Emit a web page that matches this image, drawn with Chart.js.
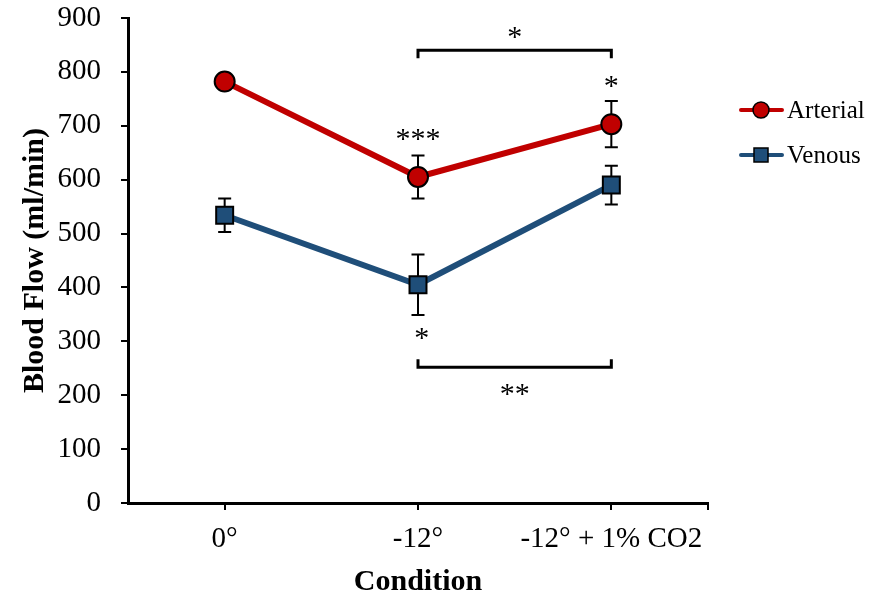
<!DOCTYPE html>
<html>
<head>
<meta charset="utf-8">
<script src="https://cdn.jsdelivr.net/npm/chart.js@4/dist/chart.umd.min.js"></script>
<style>
  html, body { margin: 0; padding: 0; background: #fff; }
  #wrap { width: 879px; height: 597px; }
</style>
</head>
<body>
<div id="wrap"><canvas id="grafico" width="879" height="597"></canvas></div>
<script>
// data
const condiciones = ["0°", "-12°", "-12° + 1% CO2"];
const arterial = [782, 605, 703];
const arterialErr = [8, 40, 43];
const venoso = [534, 405, 590];
const venosoErr = [31, 56, 36];
const yTicks = [0, 100, 200, 300, 400, 500, 600, 700, 800, 900];

// significance marks: [category index, value, text]
const estrellas = [
    [1.5, 872, "*"],
    [1, 683, "***"],
    [2, 781, "*"],
    [1.02, 313, "*"],
    [1.5, 210, "**"]
];
// brackets: [from, to, value, direction of end ticks]
const corchetes = [
    [1, 2, 840, 1],
    [1, 2, 252, -1]
];

const rojo = "#C00000";
const azul = "#1F4E79";
const fuente = "'Liberation Serif', 'Times New Roman', serif";

const extras = {
    id: "extras",
    beforeDatasetsDraw(chart) {
        const ctx = chart.ctx;
        const x = chart.scales.x;
        const y = chart.scales.y;
        ctx.save();
        ctx.strokeStyle = "#000";
        ctx.lineWidth = 2;

        // error bars, under the markers
        [[arterial, arterialErr], [venoso, venosoErr]].forEach(([vals, errs]) => {
            vals.forEach((v, i) => {
                const px = x.getPixelForValue(i);
                const top = y.getPixelForValue(v + errs[i]);
                const bot = y.getPixelForValue(v - errs[i]);
                ctx.beginPath();
                ctx.moveTo(px, top); ctx.lineTo(px, bot);
                ctx.moveTo(px - 6.5, top); ctx.lineTo(px + 6.5, top);
                ctx.moveTo(px - 6.5, bot); ctx.lineTo(px + 6.5, bot);
                ctx.stroke();
            });
        });
        ctx.restore();
    },
    afterDraw(chart) {
        const ctx = chart.ctx;
        const x = chart.scales.x;
        const y = chart.scales.y;
        const pos = (c) => x.getPixelForValue(0) + c * (x.getPixelForValue(1) - x.getPixelForValue(0));
        ctx.save();
        ctx.strokeStyle = "#000";
        ctx.lineWidth = 3;
        corchetes.forEach(([a, b, v, dir]) => {
            const py = y.getPixelForValue(v);
            ctx.beginPath();
            ctx.moveTo(pos(a), py + dir * 8);
            ctx.lineTo(pos(a), py);
            ctx.lineTo(pos(b), py);
            ctx.lineTo(pos(b), py + dir * 8);
            ctx.stroke();
        });

        ctx.fillStyle = "#000";
        ctx.font = "30px " + fuente;
        ctx.textAlign = "center";
        ctx.textBaseline = "alphabetic";
        estrellas.forEach(([c, v, t]) => {
            ctx.fillText(t, pos(c), y.getPixelForValue(v) + 13);
        });

        // x axis end tick
        ctx.lineWidth = 2;
        ctx.beginPath();
        ctx.moveTo(chart.chartArea.right, chart.chartArea.bottom);
        ctx.lineTo(chart.chartArea.right, chart.chartArea.bottom + 7);
        ctx.stroke();

        // legend
        const items = [["Arterial", rojo, "circle", 110], ["Venous", azul, "rect", 155]];
        items.forEach(([nombre, color, forma, ly]) => {
            ctx.strokeStyle = color;
            ctx.lineWidth = 4;
            ctx.lineCap = "round";
            ctx.beginPath();
            ctx.moveTo(741, ly); ctx.lineTo(782, ly);
            ctx.stroke();
            ctx.lineCap = "butt";
            ctx.fillStyle = color;
            ctx.strokeStyle = "#000";
            ctx.lineWidth = 1.5;
            ctx.beginPath();
            if (forma === "circle") ctx.arc(761, ly, 8, 0, Math.PI * 2);
            else ctx.rect(754, ly - 7, 14, 14);
            ctx.fill(); ctx.stroke();
            ctx.fillStyle = "#000";
            ctx.font = "25px " + fuente;
            ctx.textAlign = "left";
            ctx.textBaseline = "middle";
            ctx.fillText(nombre, 787, ly + 1);
        });
        ctx.restore();
    }
};

new Chart(document.getElementById("grafico").getContext("2d"), {
    type: "line",
    data: {
        labels: condiciones,
        datasets: [
            {
                label: "Arterial",
                data: arterial,
                borderColor: rojo,
                backgroundColor: rojo,
                borderWidth: 6,
                pointStyle: "circle",
                pointRadius: 10,
                pointBorderColor: "#000",
                pointBorderWidth: 2,
                tension: 0
            },
            {
                label: "Venous",
                data: venoso,
                borderColor: azul,
                backgroundColor: azul,
                borderWidth: 6,
                pointStyle: "rect",
                pointRadius: 12,
                pointBorderColor: "#000",
                pointBorderWidth: 2,
                tension: 0
            }
        ]
    },
    plugins: [extras],
    options: {
        responsive: false,
        animation: false,
        layout: { padding: { top: 18, right: 171, left: 18, bottom: 0 } },
        plugins: {
            legend: { display: false },
            tooltip: { enabled: false }
        },
        scales: {
            x: {
                offset: true,
                afterFit: (axis) => {
                    axis.height = 94;
                    axis.paddingLeft = 0;
                    axis.paddingRight = 0;
                },
                grid: { display: true, drawOnChartArea: false, offset: false, color: "#000", lineWidth: 2, tickLength: 7 },
                border: { color: "#000", width: 3 },
                ticks: { color: "#000", font: { family: fuente, size: 29 }, padding: 12, maxRotation: 0 },
                title: { display: true, text: "Condition", color: "#000", font: { family: fuente, size: 30, weight: "bold", lineHeight: 0.85 }, padding: { top: 0, bottom: 2 } }
            },
            y: {
                min: 0,
                max: 900,
                afterBuildTicks: (axis) => { axis.ticks = yTicks.map(v => ({ value: v })); },
                afterFit: (axis) => {
                    axis.width = 110;
                    axis.paddingTop = 0;
                    axis.paddingBottom = 0;
                },
                grid: { display: true, drawOnChartArea: false, color: "#000", lineWidth: 2, tickLength: 7 },
                border: { color: "#000", width: 3 },
                ticks: { color: "#000", font: { family: fuente, size: 29 }, padding: 20 },
                title: { display: true, text: "Blood Flow (ml/min)", color: "#000", font: { family: fuente, size: 30, weight: "bold", lineHeight: 1 }, padding: { top: 2, bottom: 0 } }
            }
        }
    }
});
</script>
</body>
</html>
